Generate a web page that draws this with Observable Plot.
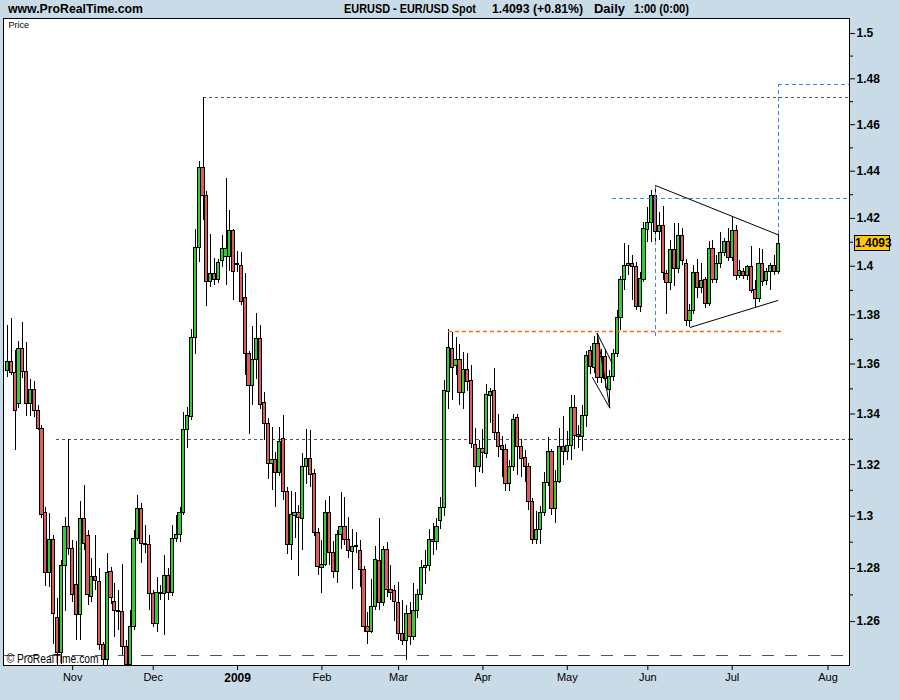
<!DOCTYPE html>
<html>
<head>
<meta charset="utf-8">
<script src="https://cdn.jsdelivr.net/npm/d3@7"></script>
<script src="https://cdn.jsdelivr.net/npm/@observablehq/plot@0.6"></script>
<style>
  html, body { margin: 0; padding: 0; }
  body { width: 900px; height: 700px; background: #c9dbe6; position: relative; overflow: hidden;
         font-family: "Liberation Sans Narrow", "Liberation Sans", Arial, sans-serif; }
  #hdr { position: absolute; left: 0; top: 0; width: 900px; height: 18px; font-weight: bold; font-size: 12px; color: #000; }
  #hdr span { position: absolute; top: 2px; white-space: pre; transform-origin: 0 50%; }
  #chart { position: absolute; left: 0; top: 17px; }
  #last { position: absolute; left: 854px; width: 34px; height: 14px; background: #ffcc00; border: 1px solid #000;
          font-weight: bold; font-size: 12px; line-height: 14px; text-align: center; }
</style>
</head>
<body>
<div id="hdr">
  <span data-w="135" style="left:8px">www.ProRealTime.com</span>
  <span data-w="132" style="left:344px">EURUSD - EUR/USD Spot</span>
  <span data-w="91" style="left:492px">1.4093 (+0.81%)</span>
  <span data-w="31" style="left:594px">Daily</span>
  <span data-w="55" style="left:634px">1:00 (0:00)</span>
</div>
<div id="chart"></div>
<div id="last"></div>
<script>
// ---- Daily candles, EUR/USD, 9 Oct 2008 .. 17 Jul 2009 (one entry per trading day) ----
const open = [
1.3570,1.3610,1.3562,1.3438,1.3659,1.3566,1.3438,1.3494,1.3410,1.3342,
1.3014,1.2781,1.2910,1.2615,1.2485,1.2811,1.2960,1.2876,1.2736,1.2623,
1.2991,1.2922,1.2694,1.2766,1.2747,1.2511,1.2456,1.2785,1.2672,1.2641,
1.2634,1.2504,1.2440,1.2578,1.2914,1.3029,1.2895,1.2891,1.2702,1.2592,
1.2709,1.2705,1.2773,1.2709,1.2914,1.2926,1.3014,1.3338,1.3386,1.3707,
1.4074,1.4412,1.4293,1.3933,1.3966,1.3941,1.4020,1.4040,1.4040,1.4145,
1.4011,1.4003,1.3867,1.3642,1.3510,1.3618,1.3703,1.3442,1.3362,1.3204,
1.3220,1.3169,1.3299,1.3095,1.2891,1.3002,1.3014,1.2991,1.3192,1.3224,
1.3162,1.2937,1.2803,1.2815,1.3014,1.2857,1.2788,1.2926,1.2960,1.2910,
1.2864,1.2884,1.2865,1.2796,1.2578,1.2563,1.2653,1.2830,1.2668,1.2872,
1.2717,1.2713,1.2668,1.2555,1.2526,1.2630,1.2541,1.2640,1.2700,1.2800,
1.2810,1.2910,1.2900,1.2983,1.3033,1.3486,1.3659,1.3590,1.3618,1.3482,
1.3574,1.3530,1.3279,1.3189,1.3260,1.3240,1.3470,1.3490,1.3323,1.3272,
1.3256,1.3123,1.3192,1.3382,1.3271,1.3228,1.3189,1.3053,1.2910,1.2945,
1.3014,1.3130,1.3248,1.3026,1.3134,1.3271,1.3248,1.3275,1.3422,1.3315,
1.3307,1.3390,1.3654,1.3582,1.3679,1.3542,1.3630,1.3494,1.3546,1.3642,
1.3785,1.3941,1.4003,1.4011,1.3995,1.3830,1.3945,1.4153,1.4182,1.4293,
1.4141,1.4169,1.3966,1.3929,1.4066,1.3990,1.4128,1.4011,1.3776,1.3817,
1.3970,1.3908,1.3941,1.3846,1.4070,1.3945,1.4011,1.4057,1.4099,1.4036,
1.4149,1.3958,1.3978,1.3958,1.3995,1.3900,1.3863,1.4011,1.3937,1.3974,
1.4003,1.3978];
const high = [
1.3756,1.3785,1.3654,1.3691,1.3768,1.3687,1.3538,1.3530,1.3434,1.3354,
1.3033,1.3010,1.2926,1.2687,1.2830,1.2994,1.3299,1.2906,1.2903,1.3057,
1.3119,1.2945,1.2838,1.2926,1.2800,1.2522,1.2857,1.2803,1.2743,1.2717,
1.2815,1.2530,1.2641,1.2945,1.3080,1.3049,1.2964,1.2926,1.2717,1.2766,
1.2736,1.2849,1.2800,1.2964,1.3002,1.3033,1.3406,1.3426,1.3740,1.4153,
1.4442,1.4719,1.4314,1.4132,1.4032,1.4028,1.4128,1.4369,1.4233,1.4153,
1.4061,1.4057,1.3970,1.3650,1.3752,1.3805,1.3756,1.3486,1.3382,1.3346,
1.3248,1.3346,1.3394,1.3111,1.3095,1.3091,1.3041,1.3244,1.3338,1.3334,
1.3181,1.2952,1.2907,1.3060,1.3076,1.2903,1.2945,1.3091,1.3072,1.2994,
1.2949,1.2937,1.2907,1.2807,1.2634,1.2758,1.2884,1.2991,1.2884,1.2899,
1.2811,1.2736,1.2747,1.2679,1.2660,1.2672,1.2743,1.2720,1.2830,1.2870,
1.2950,1.2970,1.2990,1.3072,1.3534,1.3740,1.3728,1.3707,1.3679,1.3646,
1.3642,1.3594,1.3342,1.3295,1.3338,1.3518,1.3502,1.3582,1.3398,1.3311,
1.3279,1.3216,1.3398,1.3398,1.3299,1.3256,1.3204,1.3068,1.3018,1.3037,
1.3169,1.3307,1.3260,1.3177,1.3342,1.3390,1.3331,1.3474,1.3474,1.3354,
1.3434,1.3650,1.3671,1.3710,1.3724,1.3660,1.3660,1.3574,1.3660,1.3817,
1.3958,1.4095,1.4086,1.4045,1.4015,1.3974,1.4182,1.4246,1.4320,1.4339,
1.4225,1.4250,1.3983,1.4107,1.4178,1.4178,1.4157,1.4030,1.3840,1.4003,
1.4028,1.4011,1.3954,1.4103,1.4107,1.4045,1.4141,1.4116,1.4157,1.4208,
1.4170,1.4024,1.3990,1.4003,1.4082,1.3941,1.4074,1.4070,1.3990,1.4011,
1.4045,1.4136];
const low = [
1.3546,1.3554,1.3256,1.3420,1.3542,1.3390,1.3390,1.3386,1.3335,1.2991,
1.2732,1.2728,1.2515,1.2330,1.2440,1.2638,1.2849,1.2672,1.2530,1.2530,
1.2868,1.2660,1.2672,1.2717,1.2493,1.2426,1.2420,1.2664,1.2541,1.2567,
1.2474,1.2420,1.2425,1.2567,1.2903,1.2819,1.2857,1.2641,1.2578,1.2559,
1.2679,1.2548,1.2679,1.2694,1.2900,1.2899,1.3002,1.3264,1.3374,1.3638,
1.4015,1.4191,1.3834,1.3912,1.3920,1.3929,1.3995,1.3920,1.3978,1.3859,
1.3974,1.3838,1.3554,1.3319,1.3434,1.3538,1.3418,1.3295,1.3142,1.3099,
1.3033,1.3154,1.3061,1.2853,1.2830,1.2914,1.2769,1.2868,1.3123,1.3111,
1.2922,1.2773,1.2705,1.2807,1.2811,1.2762,1.2743,1.2872,1.2887,1.2838,
1.2721,1.2857,1.2728,1.2559,1.2515,1.2555,1.2641,1.2641,1.2656,1.2690,
1.2679,1.2600,1.2530,1.2510,1.2456,1.2511,1.2530,1.2610,1.2680,1.2740,
1.2790,1.2850,1.2870,1.2950,1.3000,1.3418,1.3454,1.3554,1.3434,1.3418,
1.3490,1.3264,1.3111,1.3169,1.3165,1.3224,1.3362,1.3295,1.3228,1.3150,
1.3095,1.3095,1.3173,1.3158,1.3150,1.3130,1.3022,1.2891,1.2891,1.2891,
1.2998,1.3115,1.3002,1.2972,1.3126,1.3197,1.3216,1.3216,1.3260,1.3264,
1.3252,1.3346,1.3558,1.3560,1.3520,1.3520,1.3500,1.3422,1.3530,1.3626,
1.3737,1.3900,1.3962,1.3859,1.3817,1.3809,1.3933,1.4099,1.4099,1.4099,
1.4107,1.3941,1.3801,1.3900,1.3916,1.3970,1.4003,1.3752,1.3748,1.3800,
1.3867,1.3887,1.3826,1.3834,1.3929,1.3929,1.3990,1.4040,1.4020,1.4020,
1.3940,1.3950,1.3945,1.3941,1.3887,1.3830,1.3850,1.3915,1.3920,1.3900,
1.3960,1.3966];
const close = [
1.3610,1.3562,1.3410,1.3659,1.3566,1.3438,1.3494,1.3410,1.3342,1.3006,
1.2781,1.2907,1.2630,1.2485,1.2811,1.2960,1.2876,1.2698,1.2623,1.2991,
1.2895,1.2698,1.2769,1.2751,1.2511,1.2456,1.2781,1.2690,1.2641,1.2634,
1.2504,1.2440,1.2578,1.2914,1.3029,1.2895,1.2891,1.2702,1.2592,1.2709,
1.2705,1.2773,1.2709,1.2914,1.2926,1.3014,1.3338,1.3390,1.3707,1.4074,
1.4412,1.4293,1.3933,1.3966,1.3941,1.4015,1.4070,1.4070,1.4145,1.3978,
1.4007,1.3854,1.3642,1.3510,1.3618,1.3703,1.3434,1.3362,1.3204,1.3220,
1.3169,1.3291,1.3095,1.2891,1.3006,1.3014,1.2994,1.3192,1.3224,1.3158,
1.2937,1.2807,1.2815,1.3014,1.2857,1.2788,1.2926,1.2960,1.2910,1.2868,
1.2880,1.2883,1.2796,1.2578,1.2563,1.2653,1.2834,1.2668,1.2872,1.2717,
1.2709,1.2672,1.2555,1.2526,1.2630,1.2541,1.2638,1.2700,1.2800,1.2810,
1.2910,1.2900,1.2960,1.3033,1.3490,1.3663,1.3582,1.3618,1.3482,1.3574,
1.3526,1.3283,1.3189,1.3260,1.3244,1.3474,1.3486,1.3323,1.3268,1.3256,
1.3123,1.3192,1.3378,1.3271,1.3224,1.3189,1.3053,1.2910,1.2945,1.3014,
1.3130,1.3248,1.3026,1.3134,1.3271,1.3248,1.3275,1.3422,1.3311,1.3307,
1.3390,1.3634,1.3586,1.3679,1.3542,1.3630,1.3538,1.3546,1.3642,1.3785,
1.3941,1.3999,1.4011,1.3995,1.3830,1.3949,1.4157,1.4182,1.4293,1.4141,
1.4169,1.3970,1.3929,1.4066,1.3990,1.4128,1.4020,1.3776,1.3817,1.3970,
1.3908,1.3937,1.3846,1.4070,1.3945,1.4011,1.4057,1.4099,1.4036,1.4149,
1.3958,1.3982,1.3958,1.3995,1.3896,1.3863,1.4011,1.3933,1.3974,1.4003,
1.3978,1.4093];

// x-axis: trading-day index of each month start, and its label
const monthTicks  = [18, 39, 61, 83, 103, 125, 147, 168, 190, 215];
const monthLabels = ["Nov", "Dec", "2009", "Feb", "Mar", "Apr", "May", "Jun", "Jul", "Aug"];
// y-axis ticks
const yMajor = [1.26, 1.28, 1.30, 1.32, 1.34, 1.36, 1.38, 1.40, 1.42, 1.44, 1.46, 1.48, 1.50];
const yMinor = [1.27, 1.29, 1.31, 1.33, 1.35, 1.37, 1.39, 1.41, 1.43, 1.45, 1.47, 1.49];
const lastPrice = 1.4093;

// drawn annotations (bar index, price)
const greyLevels   = [{price: 1.4719, start: 52}, {price: 1.3299, start: 13.8}];
const supportLevel = [1.2474];
const orangeLevel  = [{price: 1.3732, start: 116, end: 203.1}];
const blueLevels   = [{price: 1.4283, start: 158.8}, {price: 1.4775, start: 202}];
const blueVerticals = [{bar: 170, from: 1.4339, to: 1.3703}, {bar: 202, from: 1.4131, to: 1.4775}];
const triangleLines = [
  {x1: 170, y1: 1.4339, x2: 202, y2: 1.4131},
  {x1: 179, y1: 1.3748, x2: 202, y2: 1.3859}
];
const wedgeLines = [
  {x1: 154.8, y1: 1.3724, x2: 158.7, y2: 1.3603},
  {x1: 154.8, y1: 1.3724, x2: 158.1, y2: 1.3423},
  {x1: 153.5, y1: 1.3547, x2: 158.1, y2: 1.3423}
];

const xMin = -0.04, xMax = 220.6;
const bars = close.map((c, k) => ({i: k + 1, o: open[k], h: high[k], l: low[k], c}));
const up = d => d.c >= d.o;

const plot = Plot.plot({
  width: 900, height: 683,
  marginLeft: 3, marginRight: 51, marginTop: 1, marginBottom: 35,
  style: {fontFamily: "'Liberation Sans Narrow','Liberation Sans',Arial,sans-serif", fontSize: "11px", color: "#000", background: "transparent", overflow: "visible"},
  x: {type: "linear", domain: [xMin, xMax]},
  y: {type: "log", domain: [1.2437, 1.5067]},
  marks: [
    Plot.frame({fill: "white", stroke: null}),
    Plot.ruleY(supportLevel, {y: d => d, stroke: "#555", strokeDasharray: "12,11", shapeRendering: "crispEdges", clip: true}),
    Plot.ruleY(greyLevels, {y: "price", x1: "start", x2: () => xMax, stroke: "#555", strokeDasharray: "3,3", shapeRendering: "crispEdges", clip: true}),
    Plot.ruleX(bars, {x: "i", y1: "l", y2: "h", stroke: "#000", strokeWidth: 1, shapeRendering: "crispEdges", clip: true}),
    Plot.rect(bars, {x1: d => d.i - 0.42, x2: d => d.i + 0.42, y1: "o", y2: "c",
      fill: d => up(d) ? "#33cc33" : "#e05a5a", stroke: "#000", strokeWidth: 1, shapeRendering: "crispEdges", clip: true}),
    Plot.ruleY(orangeLevel, {y: "price", x1: "start", x2: "end", stroke: "rgb(255,100,20)", strokeWidth: 1.5, strokeDasharray: "4,3"}),
    Plot.ruleY(blueLevels, {y: "price", x1: "start", x2: () => xMax, stroke: "#3d85ff", strokeDasharray: "4,3", shapeRendering: "crispEdges"}),
    Plot.ruleX(blueVerticals, {x: "bar", y1: "from", y2: "to", stroke: "#3d85ff", strokeDasharray: "4,3", shapeRendering: "crispEdges"}),
    Plot.link(triangleLines, {x1: "x1", y1: "y1", x2: "x2", y2: "y2", stroke: "#000", strokeWidth: 1}),
    Plot.link(wedgeLines, {x1: "x1", y1: "y1", x2: "x2", y2: "y2", stroke: "#000", strokeWidth: 1}),
    Plot.text(["Price"], {frameAnchor: "top-left", dx: 5, dy: 3, fontSize: 9, fill: "#000"}),
    Plot.text(["© ProRealTime.com"], {frameAnchor: "bottom-left", dx: 3, dy: -3, fontSize: 12, fill: "#000"}),
    Plot.axisY(yMajor, {anchor: "right", tickSize: 5, tickFormat: () => "", label: null}),
    Plot.axisY(yMinor, {anchor: "right", tickSize: 3, tickFormat: () => "", label: null}),
    Plot.text(yMajor, {y: d => d, text: d => String(d), frameAnchor: "right", dx: 7, textAnchor: "start",
      fontWeight: "bold", fontSize: 12, fill: "#000"}),
    Plot.axisX(monthTicks.filter((d, k) => monthLabels[k] !== "2009"), {anchor: "bottom", tickSize: 5, tickPadding: 3,
      tickFormat: d => monthLabels[monthTicks.indexOf(d)], fontSize: 11, label: null}),
    Plot.axisX(monthTicks.filter((d, k) => monthLabels[k] === "2009"), {anchor: "bottom", tickSize: 5, tickPadding: 3,
      tickFormat: d => monthLabels[monthTicks.indexOf(d)], fontSize: 12, fontWeight: "bold", label: null}),
    Plot.frame({stroke: "#000", shapeRendering: "crispEdges"})
  ]
});
document.getElementById("chart").appendChild(plot);

// fit the copyright text to its width in the original
d3.select(plot).selectAll("text").filter(function () { return this.textContent === "© ProRealTime.com"; })
  .attr("textLength", 92).attr("lengthAdjust", "spacingAndGlyphs");

// fit header texts to their widths in the original
document.querySelectorAll("#hdr span").forEach(s => {
  const w = s.getBoundingClientRect().width;
  const target = +s.dataset.w;
  if (w > 0) s.style.transform = `scaleX(${target / w})`;
});

const lastDiv = document.getElementById("last");
lastDiv.textContent = String(lastPrice);
const yPix = plot.scale("y").apply(lastPrice) + 17;
lastDiv.style.top = (yPix - 8) + "px";
</script>
</body>
</html>
